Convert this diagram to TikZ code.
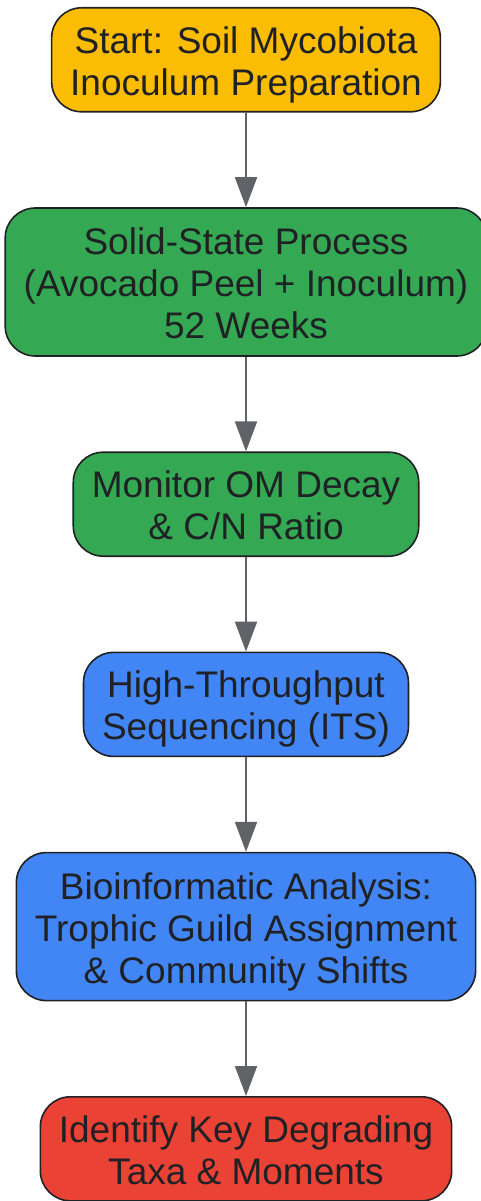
\documentclass[tikz,border=0pt]{standalone}
\usepackage{fontspec}
\setmainfont{Liberation Sans}
\usepackage{xcolor}
\usetikzlibrary{positioning,arrows.meta}
\definecolor{startyellow}{HTML}{FBBC04}
\definecolor{procgreen}{HTML}{34A853}
\definecolor{seqblue}{HTML}{4285F4}
\definecolor{endred}{HTML}{EA4335}
\definecolor{edgegray}{HTML}{5F6368}
\definecolor{inkdark}{HTML}{202124}
% struts for first and last line, so the text sits the same in every box
\newcommand{\topstrut}{\rule{0pt}{39pt}}
\newcommand{\botstrut}{\rule[-10pt]{0pt}{10pt}}
\begin{document}
\begin{tikzpicture}[
        node distance=94.6pt,
        stage/.style={draw=inkdark, line width=1.6pt, rounded corners=30pt, align=center,
            text=inkdark, inner xsep=18.5pt, inner ysep=0pt,
            font=\fontsize{37}{42}\selectfont},
        twoline/.style={stage, minimum height=104pt},
        threeline/.style={stage, minimum height=148pt},
        flow/.style={edgegray, line width=2pt, -{Triangle[length=30pt,width=22pt]}}
    ]
        \useasboundingbox (0,0) rectangle (481pt,-1201pt);
        
        \node[twoline, fill=startyellow, anchor=north] (start) at (246pt,-7pt)
            {\topstrut Start: Soil Mycobiota\\Inoculum Preparation\botstrut};
        \node[threeline, fill=procgreen, below=of start] (solid)
            {\topstrut Solid-State Process\\(Avocado Peel + Inoculum)\\52 Weeks\botstrut};
        \node[twoline, fill=procgreen, below=of solid] (monitor)
            {\topstrut Monitor OM Decay\\\& C/N Ratio\botstrut};
        \node[twoline, fill=seqblue, below=of monitor] (seq)
            {\topstrut High-Throughput\\Sequencing (ITS)\botstrut};
        \node[threeline, fill=seqblue, below=of seq] (bioinfo)
            {\topstrut Bioinformatic Analysis:\\Trophic Guild Assignment\\\& Community Shifts\botstrut};
        \node[twoline, fill=endred, below=of bioinfo] (identify)
            {\topstrut Identify Key Degrading\\Taxa \& Moments\botstrut};
        
        \foreach \a/\b in {start/solid, solid/monitor, monitor/seq, seq/bioinfo, bioinfo/identify}
            \draw[flow] (\a) -- (\b);
    \end{tikzpicture}
\end{document}
